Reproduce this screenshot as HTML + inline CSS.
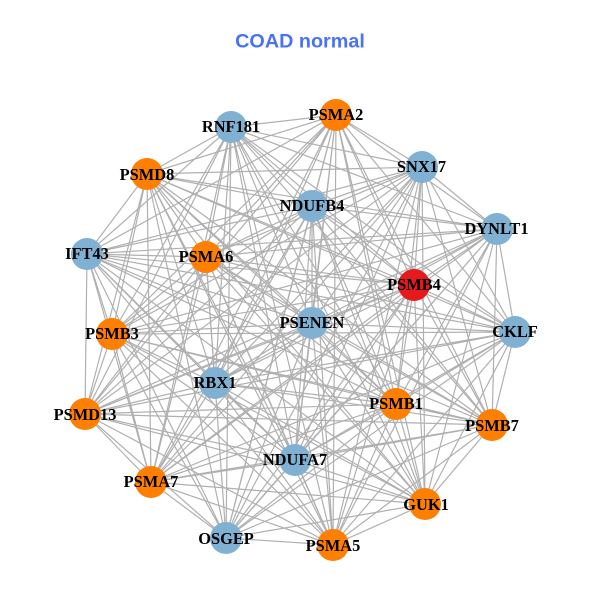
<!DOCTYPE html>
<html><head><meta charset="utf-8"><style>
html,body{margin:0;padding:0;background:#fff}
svg{display:block}
.l{font:bold 16.4px "Liberation Serif",serif;fill:#000;text-anchor:middle}
</style></head><body>
<svg width="600" height="600" viewBox="0 0 600 600" xmlns="http://www.w3.org/2000/svg">
<rect width="600" height="600" fill="#fff"/>
<g fill="none" stroke="#b0b0b0" stroke-width="1.2" stroke-linejoin="round">
<path d="M231 127L336 115 231 127 422 167 231 127 497 229 231 127 414 285 231 127 515 332 231 127 492 425 231 127 396 404 231 127 425 504 231 127 333 545 231 127 295 460 231 127 226 538 231 127 151 482 231 127 85 414 231 127 215 383 231 127 112 334 231 127 87 254 231 127 206 257 231 127 147 174 231 127 312 206 231 127 312 323"/>
<path d="M336 115L422 167 336 115 497 229 336 115 414 285 336 115 515 332 336 115 492 425 336 115 396 404 336 115 425 504 336 115 333 545 336 115 295 460 336 115 226 538 336 115 151 482 336 115 85 414 336 115 215 383 336 115 112 334 336 115 87 254 336 115 206 257 336 115 147 174 336 115 312 206 336 115 312 323"/>
<path d="M422 167L497 229 422 167 414 285 422 167 515 332 422 167 492 425 422 167 396 404 422 167 425 504 422 167 333 545 422 167 295 460 422 167 226 538 422 167 151 482 422 167 85 414 422 167 215 383 422 167 112 334 422 167 87 254 422 167 206 257 422 167 147 174 422 167 312 206 422 167 312 323"/>
<path d="M497 229L414 285 497 229 515 332 497 229 492 425 497 229 396 404 497 229 425 504 497 229 333 545 497 229 295 460 497 229 226 538 497 229 151 482 497 229 85 414 497 229 215 383 497 229 112 334 497 229 87 254 497 229 206 257 497 229 147 174 497 229 312 206 497 229 312 323"/>
<path d="M414 285L515 332 414 285 492 425 414 285 396 404 414 285 425 504 414 285 333 545 414 285 295 460 414 285 226 538 414 285 151 482 414 285 85 414 414 285 215 383 414 285 112 334 414 285 87 254 414 285 206 257 414 285 147 174 414 285 312 206 414 285 312 323"/>
<path d="M515 332L492 425 515 332 396 404 515 332 425 504 515 332 333 545 515 332 295 460 515 332 226 538 515 332 151 482 515 332 85 414 515 332 215 383 515 332 112 334 515 332 87 254 515 332 206 257 515 332 147 174 515 332 312 206 515 332 312 323"/>
<path d="M492 425L396 404 492 425 425 504 492 425 333 545 492 425 295 460 492 425 226 538 492 425 151 482 492 425 85 414 492 425 215 383 492 425 112 334 492 425 87 254 492 425 206 257 492 425 147 174 492 425 312 206 492 425 312 323"/>
<path d="M396 404L425 504 396 404 333 545 396 404 295 460 396 404 226 538 396 404 151 482 396 404 85 414 396 404 215 383 396 404 112 334 396 404 87 254 396 404 206 257 396 404 147 174 396 404 312 206 396 404 312 323"/>
<path d="M425 504L333 545 425 504 295 460 425 504 226 538 425 504 151 482 425 504 85 414 425 504 215 383 425 504 112 334 425 504 87 254 425 504 206 257 425 504 147 174 425 504 312 206 425 504 312 323"/>
<path d="M333 545L295 460 333 545 226 538 333 545 151 482 333 545 85 414 333 545 215 383 333 545 112 334 333 545 87 254 333 545 206 257 333 545 147 174 333 545 312 206 333 545 312 323"/>
<path d="M295 460L226 538 295 460 151 482 295 460 85 414 295 460 215 383 295 460 112 334 295 460 87 254 295 460 206 257 295 460 147 174 295 460 312 206 295 460 312 323"/>
<path d="M226 538L151 482 226 538 85 414 226 538 215 383 226 538 112 334 226 538 87 254 226 538 206 257 226 538 147 174 226 538 312 206 226 538 312 323"/>
<path d="M151 482L85 414 151 482 215 383 151 482 112 334 151 482 87 254 151 482 206 257 151 482 147 174 151 482 312 206 151 482 312 323"/>
<path d="M85 414L215 383 85 414 112 334 85 414 87 254 85 414 206 257 85 414 147 174 85 414 312 206 85 414 312 323"/>
<path d="M215 383L112 334 215 383 87 254 215 383 206 257 215 383 147 174 215 383 312 206 215 383 312 323"/>
<path d="M112 334L87 254 112 334 206 257 112 334 147 174 112 334 312 206 112 334 312 323"/>
<path d="M87 254L206 257 87 254 147 174 87 254 312 206 87 254 312 323"/>
<path d="M206 257L147 174 206 257 312 206 206 257 312 323"/>
<path d="M147 174L312 206 147 174 312 323"/>
<path d="M312 206L312 323"/>
</g>
<g fill="#80b1d3">
<circle cx="231" cy="127" r="16"/><circle cx="422" cy="167" r="16"/><circle cx="497" cy="229" r="16"/><circle cx="515" cy="332" r="16"/><circle cx="295" cy="460" r="16"/><circle cx="226" cy="538" r="16"/><circle cx="215" cy="383" r="16"/><circle cx="87" cy="254" r="16"/><circle cx="312" cy="206" r="16"/><circle cx="312" cy="323" r="16"/>
</g>
<g fill="#ff7f00">
<circle cx="336" cy="115" r="16"/><circle cx="492" cy="425" r="16"/><circle cx="396" cy="404" r="16"/><circle cx="425" cy="504" r="16"/><circle cx="333" cy="545" r="16"/><circle cx="151" cy="482" r="16"/><circle cx="85" cy="414" r="16"/><circle cx="112" cy="334" r="16"/><circle cx="206" cy="257" r="16"/><circle cx="147" cy="174" r="16"/>
</g>
<circle cx="414" cy="285" r="16" fill="#e41a1c"/>
<text x="300" y="47.5" text-anchor="middle" style="font:bold 19.8px 'Liberation Sans',sans-serif;fill:#4a72f5">COAD normal</text>
<g>
<text class="l" x="231" y="132">RNF181</text>
<text class="l" x="336" y="120">PSMA2</text>
<text class="l" x="421.500" y="172">SNX17</text>
<text class="l" x="496.500" y="234">DYNLT1</text>
<text class="l" x="414" y="290">PSMB4</text>
<text class="l" x="515" y="337">CKLF</text>
<text class="l" x="492" y="431">PSMB7</text>
<text class="l" x="396" y="409">PSMB1</text>
<text class="l" x="426" y="510">GUK1</text>
<text class="l" x="333" y="551">PSMA5</text>
<text class="l" x="295" y="465">NDUFA7</text>
<text class="l" x="226" y="544">OSGEP</text>
<text class="l" x="151" y="487">PSMA7</text>
<text class="l" x="85" y="420">PSMD13</text>
<text class="l" x="215" y="388">RBX1</text>
<text class="l" x="112" y="339">PSMB3</text>
<text class="l" x="87" y="259">IFT43</text>
<text class="l" x="206" y="262">PSMA6</text>
<text class="l" x="147" y="180">PSMD8</text>
<text class="l" x="312" y="211">NDUFB4</text>
<text class="l" x="312" y="328">PSENEN</text>
</g>
</svg>
</body></html>
